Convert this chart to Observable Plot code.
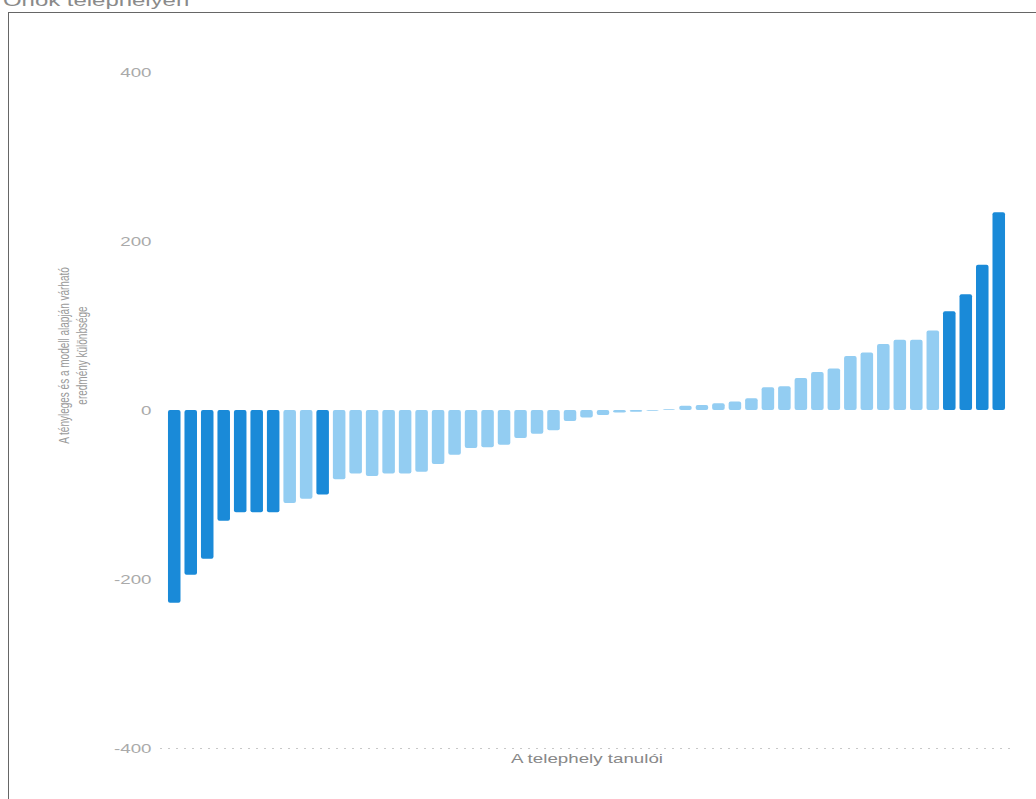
<!DOCTYPE html>
<html><head><meta charset="utf-8">
<script src="https://cdn.jsdelivr.net/npm/d3@7"></script>
<script src="https://cdn.jsdelivr.net/npm/@observablehq/plot@0.6"></script>
<style>
body{margin:0;background:#fff;overflow:hidden;width:1036px;height:799px;position:relative;font-family:"Liberation Sans",Arial,sans-serif}
#title{position:absolute;left:3px;top:-9px;font-size:16.5px;line-height:18px;color:#8a8a8a;white-space:nowrap;transform:scaleX(1.45);transform-origin:0 0}
#frame{position:absolute;left:8px;top:12px;width:1040px;height:800px;border-left:1px solid #666;border-top:1px solid #666}
#chart{position:absolute;left:0;top:0}
</style></head><body>
<div id="title">Önök telephelyén</div>
<div id="frame"></div>
<div id="chart"></div>
<script>
// Eltérés: tényleges – modell alapján várható eredmény, tanulónként (rendezve)
const kulonbseg = [
  -228, -195, -176, -131, -121, -121, -121, -110, -105, -100,
  -82, -75, -78, -75, -75, -73, -64, -53, -45, -44,
  -41, -33, -28, -24, -13, -9, -6, -3, -2, -1,
  1, 5, 6, 8, 10, 14, 27, 28, 38, 45,
  49, 64, 68, 78, 83, 83, 94, 117, 137, 172,
  234
];
// 1 = sötétkék (jelentős eltérés), 0 = világoskék
const kiemelt = [
  1, 1, 1, 1, 1, 1, 1, 0, 0, 1,
  0, 0, 0, 0, 0, 0, 0, 0, 0, 0,
  0, 0, 0, 0, 0, 0, 0, 0, 0, 0,
  0, 0, 0, 0, 0, 0, 0, 0, 0, 0,
  0, 0, 0, 0, 0, 0, 0, 1, 1, 1,
  1
];
const yTicks = [-400, -200, 0, 200, 400];
const yLabel = "A tényleges és a modell alapján várható\neredmény különbsége";
const xLabel = "A telephely tanulói";
const darkBlue = "#1a8ad8";
const lightBlue = "#93cdf2";

const data = kulonbseg.map((v, i) => ({tanulo: i + 1, ertek: v, csoport: kiemelt[i] ? "kiemelt" : "egyéb"}));

const chart = Plot.plot({
  width: 1036,
  height: 799,
  marginTop: 72,
  marginBottom: 51,
  marginLeft: 166,
  marginRight: 29,
  style: {background: "transparent", fontFamily: "'Liberation Sans', Arial, sans-serif", fontSize: "12.5px", color: "#aaa"},
  x: {type: "band", domain: data.map(d => d.tanulo), paddingInner: 0.24, paddingOuter: 0.12, round: false, axis: null},
  y: {domain: [-400, 400], ticks: yTicks, axis: null},
  color: {domain: ["kiemelt", "egyéb"], range: [darkBlue, lightBlue]},
  marks: [
    Plot.ruleY([-400], {stroke: "#c8c8c8", strokeDasharray: "2,6", insetLeft: -6, insetRight: -3, strokeWidth: 1}),
    Plot.barY(data, {x: "tanulo", y: "ertek", fill: "csoport", rx: 2}),
    Plot.axisY({ticks: yTicks, tickSize: 0, tickPadding: 15, tickFormat: d => String(d), fill: "#aaa", fontSize: 12.5, label: null}),
    Plot.text([xLabel], {frameAnchor: "bottom", dy: 14, fill: "#888", fontSize: 12.5}),
    Plot.text([yLabel], {frameAnchor: "left", dx: -94, dy: -55, rotate: -90, textAnchor: "middle", fill: "#9a9a9a", fontSize: 10, lineHeight: 1.2})
  ]
});
// the reference rendering is horizontally stretched: widen every text around its anchor
const stretch = 1.5;
chart.querySelectorAll("text").forEach(t => {
  const tr = t.getAttribute("transform");
  if (tr && /^translate\([^)]*\)/.test(tr)) {
    t.setAttribute("transform", tr.replace(/^(translate\([^)]*\))/, `$1 scale(${stretch},1)`));
  } else {
    const x = +t.getAttribute("x") || 0;
    t.setAttribute("x", x / stretch);
    t.setAttribute("transform", `scale(${stretch},1)` + (tr ? " " + tr : ""));
  }
});
document.getElementById("chart").appendChild(chart);
</script>
</body></html>
